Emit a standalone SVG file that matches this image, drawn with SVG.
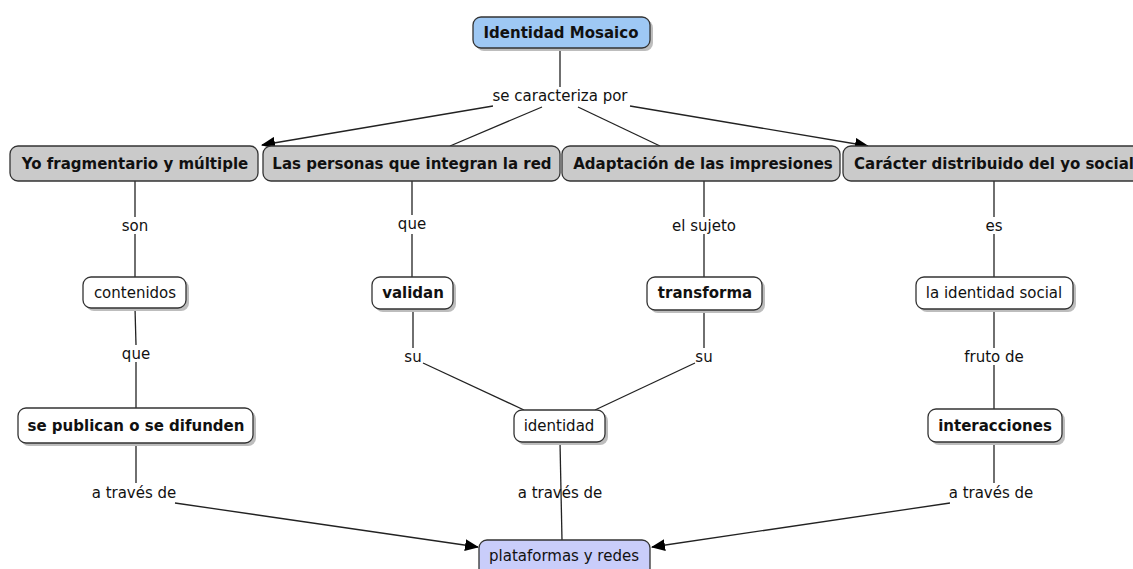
<svg xmlns="http://www.w3.org/2000/svg" width="1133" height="569" viewBox="0 0 1133 569">
<defs>
<marker id="arr" markerWidth="14" markerHeight="12" refX="13" refY="6" orient="auto" markerUnits="userSpaceOnUse">
<path d="M0,0 L14,6 L0,12 Z" fill="#000"/>
</marker>
</defs>
<style>
.bx{stroke:#333;stroke-width:1.3}
.gray{fill:#cacaca}
.white{fill:#fff}
.blue{fill:#9ec8f4}
.lav{fill:#c9cdfa}
.sh{fill:#bdbdbd}
.t{font-family:"DejaVu Sans",Verdana,sans-serif;font-size:15px;fill:#111;text-anchor:middle}
.b{font-weight:bold}
.ln{stroke:#222;stroke-width:1.3;fill:none}
</style>
<rect width="1133" height="569" fill="#fff"/>
<g id="connectors">
<line class="ln" x1="560" y1="49" x2="560" y2="87"/>
<line class="ln" x1="493" y1="106" x2="262" y2="145" marker-end="url(#arr)"/>
<line class="ln" x1="542" y1="107" x2="450" y2="146"/>
<line class="ln" x1="578" y1="107" x2="660" y2="146"/>
<line class="ln" x1="630" y1="106" x2="868" y2="146" marker-end="url(#arr)"/>
<line class="ln" x1="135" y1="181" x2="135" y2="217"/>
<line class="ln" x1="135" y1="234" x2="135" y2="277"/>
<line class="ln" x1="135" y1="308" x2="136" y2="345"/>
<line class="ln" x1="136" y1="362" x2="136" y2="408"/>
<line class="ln" x1="136" y1="443" x2="136" y2="483"/>
<line class="ln" x1="175" y1="503" x2="478" y2="547" marker-end="url(#arr)"/>
<line class="ln" x1="412" y1="181" x2="412" y2="215"/>
<line class="ln" x1="412" y1="234" x2="412" y2="277"/>
<line class="ln" x1="413" y1="312" x2="413" y2="348"/>
<line class="ln" x1="423" y1="363" x2="524" y2="410"/>
<line class="ln" x1="704" y1="181" x2="704" y2="217"/>
<line class="ln" x1="704" y1="234" x2="704" y2="277"/>
<line class="ln" x1="704" y1="313" x2="704" y2="348"/>
<line class="ln" x1="695" y1="363" x2="595" y2="410"/>
<line class="ln" x1="994" y1="181" x2="994" y2="217"/>
<line class="ln" x1="994" y1="234" x2="994" y2="277"/>
<line class="ln" x1="994" y1="309" x2="994" y2="348"/>
<line class="ln" x1="994" y1="365" x2="994" y2="409"/>
<line class="ln" x1="994" y1="442" x2="994" y2="483"/>
<line class="ln" x1="950" y1="503" x2="652" y2="547" marker-end="url(#arr)"/>
<line class="ln" x1="560" y1="442" x2="562" y2="540"/>
</g>
<g id="labels">
<text class="t" x="560" y="101">se caracteriza por</text>
<text class="t" x="135" y="231">son</text>
<text class="t" x="136" y="359">que</text>
<text class="t" x="134" y="498">a través de</text>
<text class="t" x="412" y="229">que</text>
<text class="t" x="413" y="362">su</text>
<text class="t" x="560" y="498">a través de</text>
<text class="t" x="704" y="231">el sujeto</text>
<text class="t" x="704" y="362">su</text>
<text class="t" x="994" y="231">es</text>
<text class="t" x="994" y="362">fruto de</text>
<text class="t" x="991" y="498">a través de</text>
</g>
<g id="n-identidad-mosaico">
<rect class="sh" x="476" y="20" width="177" height="31" rx="8"/>
<rect class="bx blue" x="473" y="17" width="177" height="31" rx="8"/>
<text class="t b" x="561" y="38">Identidad Mosaico</text>
</g>
<g id="n-yo">
<rect class="bx gray" x="10" y="146" width="248" height="35" rx="8"/>
<text class="t b" x="135" y="169">Yo fragmentario y múltiple</text>
</g>
<g id="n-personas">
<rect class="bx gray" x="263" y="146" width="297" height="35" rx="8"/>
<text class="t b" x="412" y="169">Las personas que integran la red</text>
</g>
<g id="n-adaptacion">
<rect class="bx gray" x="562" y="146" width="278" height="35" rx="8"/>
<text class="t b" x="703" y="169">Adaptación de las impresiones</text>
</g>
<g id="n-caracter">
<rect class="bx gray" x="843" y="146" width="306" height="35" rx="8"/>
<text class="t b" x="994" y="169">Carácter distribuido del yo social</text>
</g>
<g id="n-contenidos">
<rect class="sh" x="86" y="280" width="103" height="31" rx="8"/>
<rect class="bx white" x="83" y="277" width="103" height="31" rx="8"/>
<text class="t" x="135" y="298">contenidos</text>
</g>
<g id="n-validan">
<rect class="sh" x="375" y="280" width="81" height="32" rx="8"/>
<rect class="bx white" x="372" y="277" width="81" height="32" rx="8"/>
<text class="t b" x="413" y="298">validan</text>
</g>
<g id="n-transforma">
<rect class="sh" x="650" y="280" width="115" height="33" rx="8"/>
<rect class="bx white" x="647" y="277" width="115" height="33" rx="8"/>
<text class="t b" x="705" y="298">transforma</text>
</g>
<g id="n-identidad-social">
<rect class="sh" x="919" y="280" width="157" height="32" rx="8"/>
<rect class="bx white" x="916" y="277" width="157" height="32" rx="8"/>
<text class="t" x="994" y="298">la identidad social</text>
</g>
<g id="n-publican">
<rect class="sh" x="21" y="411" width="235" height="35" rx="8"/>
<rect class="bx white" x="18" y="408" width="235" height="35" rx="8"/>
<text class="t b" x="136" y="431">se publican o se difunden</text>
</g>
<g id="n-identidad">
<rect class="sh" x="517" y="413" width="91" height="32" rx="8"/>
<rect class="bx white" x="514" y="410" width="91" height="32" rx="8"/>
<text class="t" x="559" y="431">identidad</text>
</g>
<g id="n-interacciones">
<rect class="sh" x="931" y="412" width="134" height="33" rx="8"/>
<rect class="bx white" x="928" y="409" width="134" height="33" rx="8"/>
<text class="t b" x="995" y="431">interacciones</text>
</g>
<g id="n-plataformas">
<rect class="bx lav" x="479" y="540" width="171" height="40" rx="8"/>
<text class="t" x="564" y="561">plataformas y redes</text>
</g>
</svg>
